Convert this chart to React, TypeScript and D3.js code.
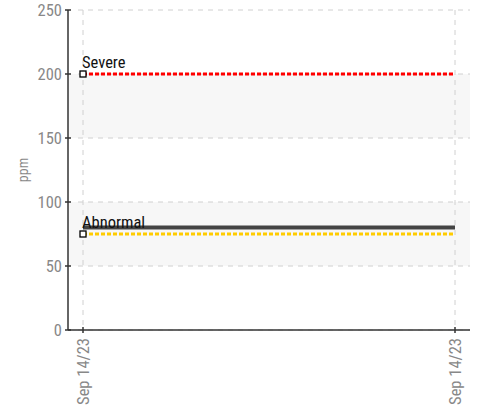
import React from 'react';
import * as d3 from 'd3';

const dates = ['Sep 14/23', 'Sep 14/23'];
const reading = [80, 80];
const severeLimit = [200, 200];
const abnormalLimit = [75, 75];
const bands = [
  [50, 100],
  [150, 200],
];
const yTicks = [0, 50, 100, 150, 200, 250];

const W = 477;
const H = 411;
const font = "'Liberation Sans Narrow', 'Roboto Condensed', 'Arial Narrow', sans-serif";

export default function App() {
  const y = d3.scaleLinear().domain([0, 250]).range([330, 10]);
  const x = d3.scaleLinear().domain([0, dates.length - 1]).range([83, 455]);
  const left = 68;
  const right = 470;

  const line = (vals: number[]) =>
    d3
      .line<number>()
      .x((d, i) => x(i))
      .y((d) => y(d))(vals) || '';

  return (
    <svg width={W} height={H} style={{ position: 'absolute', left: 0, top: 0 }} fontFamily={font}>
      {/* bands */}
      {bands.map(([a, b], i) => (
        <rect key={'b' + i} x={left} y={y(b)} width={right - left} height={y(a) - y(b)} fill="#f7f7f7" />
      ))}
      {/* horizontal grid */}
      {yTicks.map((t) => (
        <line key={'g' + t} x1={left + 10} x2={right} y1={y(t)} y2={y(t)} stroke="#d0d0d0" strokeDasharray="5,5" />
      ))}
      {/* vertical grid */}
      {dates.map((d, i) => (
        <line key={'v' + i} x1={x(i)} x2={x(i)} y1={y(250)} y2={y(0)} stroke="#d0d0d0" strokeDasharray="5,5" />
      ))}
      {/* y axis */}
      <line x1={left} x2={left} y1={y(250)} y2={y(0)} stroke="#333" strokeWidth={1.5} />
      {yTicks.map((t) => (
        <g key={'t' + t}>
          <line x1={left - 3} x2={left + 3} y1={y(t)} y2={y(t)} stroke="#333" strokeWidth={1.5} />
          <text x={left - 6} y={y(t)} dy="0.36em" textAnchor="end" fill="#888" fontSize={16.5}>
            {t}
          </text>
        </g>
      ))}
      <text transform={`translate(28,${y(125)}) rotate(-90)`} textAnchor="middle" fill="#888" fontSize={14}>
        ppm
      </text>
      {/* x axis */}
      <line x1={left} x2={right} y1={y(0)} y2={y(0)} stroke="#333" strokeWidth={1.5} />
      {dates.map((d, i) => (
        <g key={'x' + i}>
          <line x1={x(i)} x2={x(i)} y1={y(0) - 3} y2={y(0) + 3} stroke="#333" strokeWidth={1.5} />
          <text
            transform={`translate(${x(i)},${y(0) + 8}) rotate(-90)`}
            dy="0.36em"
            textAnchor="end"
            fill="#888"
            fontSize={16.5}
          >
            {d}
          </text>
        </g>
      ))}
      {/* reading */}
      <path d={line(reading)} fill="none" stroke="#444" strokeWidth={4} />
      {/* limits */}
      <path d={line(severeLimit)} fill="none" stroke="#ff0000" strokeWidth={3} strokeDasharray="4,2" />
      <path d={line(abnormalLimit)} fill="none" stroke="#ffcc00" strokeWidth={3} strokeDasharray="4,2" />
      {[
        { v: severeLimit[0], label: 'Severe' },
        { v: abnormalLimit[0], label: 'Abnormal' },
      ].map((m) => (
        <g key={m.label}>
          <rect x={x(0) - 3} y={y(m.v) - 3} width={6} height={6} fill="#fff" stroke="#000" strokeWidth={1.3} />
          <text x={x(0) - 1} y={y(m.v) - 6} fill="#111" fontSize={16.5}>
            {m.label}
          </text>
        </g>
      ))}
    </svg>
  );
}
